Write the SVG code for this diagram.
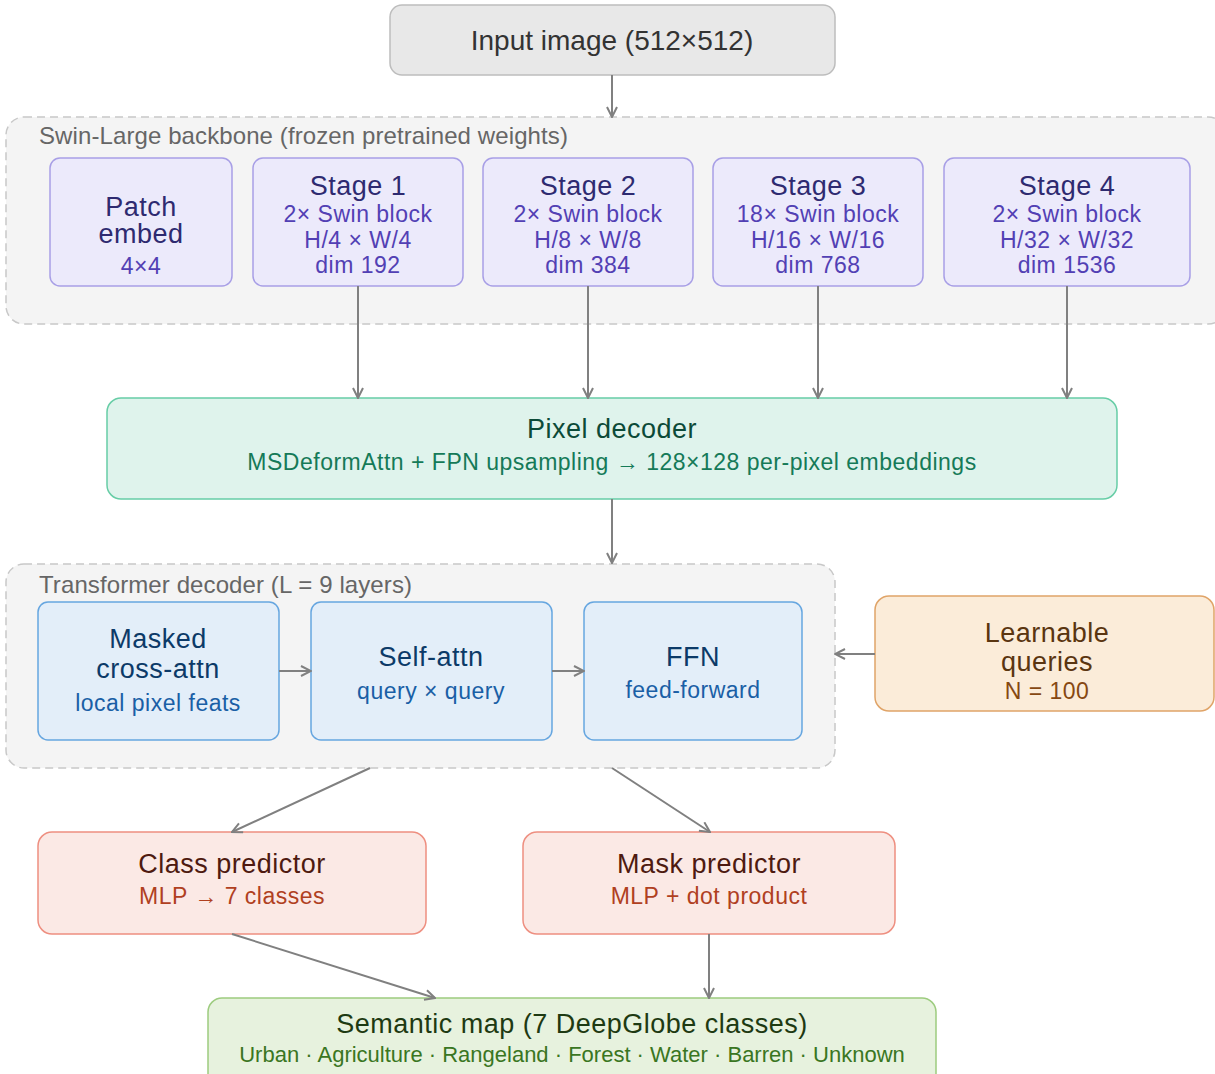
<svg xmlns="http://www.w3.org/2000/svg" width="1215" height="1074" viewBox="0 0 1215 1074">
<defs>
<marker id="arr" viewBox="0 0 12 12" refX="11" refY="6" markerWidth="12" markerHeight="12" markerUnits="userSpaceOnUse" orient="auto">
<path d="M1,1 L11,6 L1,11" fill="none" stroke="#808080" stroke-width="2"/>
</marker>
<style>
text{font-family:"Liberation Sans",Arial,sans-serif;text-anchor:middle}
.cont{fill:#f4f4f4;stroke:#c8c8c8;stroke-width:1.5;stroke-dasharray:8 5}
.clab{font-size:24px;fill:#666;text-anchor:start;letter-spacing:0.1px}
.t{font-size:27px;letter-spacing:0.5px}
.s{font-size:23px;letter-spacing:0.5px}
.gray rect{fill:#e8e8e8;stroke:#bdbdbd;stroke-width:1.5}
.gray text{fill:#333}
.pur rect{fill:#eceafb;stroke:#a89fe6;stroke-width:1.5}
.pur .t{fill:#2e2a70}
.pur .s{fill:#5240b4}
.grn rect{fill:#dff3ec;stroke:#67cda6;stroke-width:1.5}
.grn .t{fill:#0c4a38}
.grn .s{fill:#157a58}
.blu rect{fill:#e3eef9;stroke:#66a6e0;stroke-width:1.5}
.blu .t{fill:#0c3a68}
.blu .s{fill:#1a5fa6}
.org rect{fill:#fbecd9;stroke:#e0a468;stroke-width:1.5}
.org .t{fill:#5a3510}
.org .s{fill:#864812}
.red rect{fill:#fbe9e5;stroke:#ee8f80;stroke-width:1.5}
.red .t{fill:#4e1a10}
.red .s{fill:#b0401f}
.lg rect{fill:#e7f2de;stroke:#9dcc7f;stroke-width:1.5}
.lg .t{fill:#1e3a12}
.lg .s{fill:#3a7622}
#edges line{stroke:#808080;stroke-width:2;marker-end:url(#arr)}
</style>
</defs>
<rect width="1215" height="1074" fill="#ffffff"/>

<g id="backbone">
<rect class="cont" x="6" y="117" width="1220" height="207" rx="18"/>
<text class="clab" x="39" y="144">Swin-Large backbone (frozen pretrained weights)</text>
</g>
<g id="tdecoder">
<rect class="cont" x="6" y="564" width="829" height="204" rx="18"/>
<text class="clab" x="39" y="593">Transformer decoder (L = 9 layers)</text>
</g>

<g id="input" class="gray">
<rect x="390" y="5" width="445" height="70" rx="12"/>
<text x="612" y="50" style="font-size:28px">Input image (512×512)</text>
</g>

<g id="patch" class="pur">
<rect x="50" y="158" width="182" height="128" rx="10"/>
<text class="t" x="141" y="216">Patch</text>
<text class="t" x="141" y="243">embed</text>
<text class="s" x="141" y="274">4×4</text>
</g>
<g id="stage1" class="pur">
<rect x="253" y="158" width="210" height="128" rx="10"/>
<text class="t" x="358" y="195">Stage 1</text>
<text class="s" x="358" y="222">2× Swin block</text>
<text class="s" x="358" y="248">H/4 × W/4</text>
<text class="s" x="358" y="273">dim 192</text>
</g>
<g id="stage2" class="pur">
<rect x="483" y="158" width="210" height="128" rx="10"/>
<text class="t" x="588" y="195">Stage 2</text>
<text class="s" x="588" y="222">2× Swin block</text>
<text class="s" x="588" y="248">H/8 × W/8</text>
<text class="s" x="588" y="273">dim 384</text>
</g>
<g id="stage3" class="pur">
<rect x="713" y="158" width="210" height="128" rx="10"/>
<text class="t" x="818" y="195">Stage 3</text>
<text class="s" x="818" y="222">18× Swin block</text>
<text class="s" x="818" y="248">H/16 × W/16</text>
<text class="s" x="818" y="273">dim 768</text>
</g>
<g id="stage4" class="pur">
<rect x="944" y="158" width="246" height="128" rx="10"/>
<text class="t" x="1067" y="195">Stage 4</text>
<text class="s" x="1067" y="222">2× Swin block</text>
<text class="s" x="1067" y="248">H/32 × W/32</text>
<text class="s" x="1067" y="273">dim 1536</text>
</g>

<g id="pixel" class="grn">
<rect x="107" y="398" width="1010" height="101" rx="14"/>
<text class="t" x="612" y="438">Pixel decoder</text>
<text class="s" x="612" y="470">MSDeformAttn + FPN upsampling → 128×128 per-pixel embeddings</text>
</g>

<g id="masked" class="blu">
<rect x="38" y="602" width="241" height="138" rx="10"/>
<text class="t" x="158" y="648">Masked</text>
<text class="t" x="158" y="678">cross-attn</text>
<text class="s" x="158" y="711">local pixel feats</text>
</g>
<g id="selfattn" class="blu">
<rect x="311" y="602" width="241" height="138" rx="10"/>
<text class="t" x="431" y="666">Self-attn</text>
<text class="s" x="431" y="699">query × query</text>
</g>
<g id="ffn" class="blu">
<rect x="584" y="602" width="218" height="138" rx="10"/>
<text class="t" x="693" y="666">FFN</text>
<text class="s" x="693" y="698">feed-forward</text>
</g>

<g id="queries" class="org">
<rect x="875" y="596" width="339" height="115" rx="14"/>
<text class="t" x="1047" y="642">Learnable</text>
<text class="t" x="1047" y="671">queries</text>
<text class="s" x="1047" y="699">N = 100</text>
</g>

<g id="classpred" class="red">
<rect x="38" y="832" width="388" height="102" rx="14"/>
<text class="t" x="232" y="873">Class predictor</text>
<text class="s" x="232" y="904">MLP → 7 classes</text>
</g>
<g id="maskpred" class="red">
<rect x="523" y="832" width="372" height="102" rx="14"/>
<text class="t" x="709" y="873">Mask predictor</text>
<text class="s" x="709" y="904">MLP + dot product</text>
</g>

<g id="semantic" class="lg">
<rect x="208" y="998" width="728" height="90" rx="14"/>
<text class="t" x="572" y="1033">Semantic map (7 DeepGlobe classes)</text>
<text class="s" x="572" y="1062" style="font-size:22px;letter-spacing:0">Urban · Agriculture · Rangeland · Forest · Water · Barren · Unknown</text>
</g>

<g id="edges">
<line x1="612" y1="75" x2="612" y2="117"/>
<line x1="358" y1="286" x2="358" y2="398"/>
<line x1="588" y1="286" x2="588" y2="398"/>
<line x1="818" y1="286" x2="818" y2="398"/>
<line x1="1067" y1="286" x2="1067" y2="398"/>
<line x1="612" y1="499" x2="612" y2="563"/>
<line x1="279" y1="671" x2="311" y2="671"/>
<line x1="552" y1="671" x2="584" y2="671"/>
<line x1="875" y1="654" x2="835" y2="654"/>
<line x1="370" y1="768" x2="232" y2="832"/>
<line x1="612" y1="768" x2="710" y2="832"/>
<line x1="232" y1="934" x2="435" y2="998"/>
<line x1="709" y1="934" x2="709" y2="998"/>
</g>
</svg>
